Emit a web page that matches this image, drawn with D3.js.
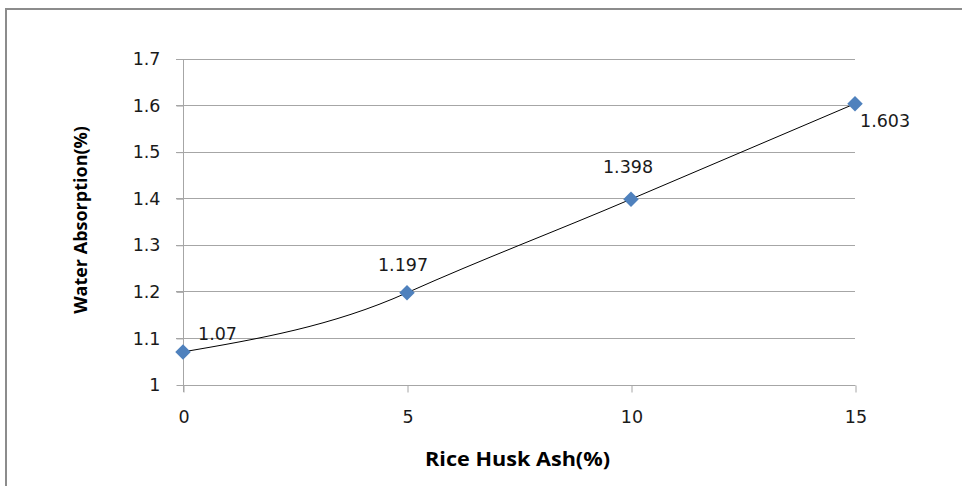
<!DOCTYPE html>
<html>
<head>
<meta charset="utf-8">
<script src="https://cdn.jsdelivr.net/npm/d3@7"></script>
<style>
  html, body { margin: 0; padding: 0; background: #fff; }
  svg { display: block; }
</style>
</head>
<body>
<svg id="chart" width="962" height="486"></svg>
<script>
// Rice husk ash content vs. water absorption
const ashPercent = [0, 5, 10, 15];
const waterAbsorption = [1.07, 1.197, 1.398, 1.603];
const xTicks = [0, 5, 10, 15];
const yTicks = [1, 1.1, 1.2, 1.3, 1.4, 1.5, 1.6, 1.7];

// label placement relative to each point (dx, dy, anchor)
const labelOffsets = [
  { dx: 15, dy: -12, anchor: "start" },
  { dx: -4, dy: -22, anchor: "middle" },
  { dx: -3, dy: -26, anchor: "middle" },
  { dx: 5, dy: 23, anchor: "start" }
];

const svg = d3.select("#chart");
const W = 962, H = 486;

// outer frame
svg.append("rect")
  .attr("x", 6).attr("y", 9)
  .attr("width", W + 10).attr("height", H + 10)
  .attr("fill", "#fff")
  .attr("stroke", "#8c8c8c")
  .attr("stroke-width", 2);

const x = d3.scaleLinear().domain([0, 15]).range([183, 855]);
const y = d3.scaleLinear().domain([1, 1.7]).range([384.5, 58.5]);

const tickFont = "DejaVu Sans, Verdana, sans-serif";
const tickSize = 17.5;
const gridColor = "#a6a6a6";

// horizontal gridlines
svg.append("g")
  .selectAll("line")
  .data(yTicks.slice(1))
  .join("line")
  .attr("x1", x(0) - 7).attr("x2", x(15))
  .attr("y1", d => Math.round(y(d)) + 0.5)
  .attr("y2", d => Math.round(y(d)) + 0.5)
  .attr("stroke", gridColor)
  .attr("stroke-width", 1);

// y axis
const yAxis = d3.axisLeft(y)
  .tickValues(yTicks)
  .tickSize(7)
  .tickPadding(16)
  .tickFormat(d3.format("~g"));
const gy = svg.append("g")
  .attr("transform", `translate(${x(0) + 0.5},0.5)`)
  .call(yAxis);
gy.select(".domain").attr("stroke", gridColor).attr("d", `M0,${y(1.7)}V${y(1) + 7}`);
gy.selectAll(".tick line").attr("stroke", gridColor);
gy.selectAll(".tick text")
  .attr("font-family", tickFont).attr("font-size", tickSize)
  .attr("fill", "#1a1a1a");

// x axis
const xAxis = d3.axisBottom(x)
  .tickValues(xTicks)
  .tickSize(7)
  .tickPadding(18)
  .tickFormat(d3.format("d"));
const gx = svg.append("g")
  .attr("transform", `translate(0.5,${Math.round(y(1)) + 0.5})`)
  .call(xAxis);
gx.select(".domain").attr("stroke", gridColor).attr("d", `M${x(0)},0H${x(15)}`);
gx.selectAll(".tick line").attr("stroke", gridColor);
gx.selectAll(".tick text")
  .attr("font-family", tickFont).attr("font-size", tickSize)
  .attr("fill", "#1a1a1a");

// smoothed series line: cubic Hermite segments through every point.
// Interior tangents lean on the following secant; the end tangents use
// a zero-curvature condition.
function smoothPath(p) {
  const n = p.length;
  const sec = [];
  for (let i = 0; i < n - 1; i++) {
    sec.push((p[i + 1][1] - p[i][1]) / (p[i + 1][0] - p[i][0]));
  }
  const m = new Array(n);
  for (let i = 1; i < n - 1; i++) {
    m[i] = sec[i] + 0.2 * (sec[i] - sec[i - 1]);
  }
  m[0] = (3 * sec[0] - m[1]) / 2;
  m[n - 1] = (3 * sec[n - 2] - m[n - 2]) / 2;
  const path = d3.path();
  path.moveTo(p[0][0], p[0][1]);
  for (let i = 0; i < n - 1; i++) {
    const h = (p[i + 1][0] - p[i][0]) / 3;
    path.bezierCurveTo(
      p[i][0] + h, p[i][1] + m[i] * h,
      p[i + 1][0] - h, p[i + 1][1] - m[i + 1] * h,
      p[i + 1][0], p[i + 1][1]
    );
  }
  return path.toString();
}

const pts = ashPercent.map((a, i) => [a, waterAbsorption[i]]);
const screenPts = pts.map(d => [x(d[0]), y(d[1])]);
svg.append("path")
  .attr("d", smoothPath(screenPts))
  .attr("fill", "none")
  .attr("stroke", "#000")
  .attr("stroke-width", 1);

// diamond markers
svg.append("g")
  .selectAll("path")
  .data(pts)
  .join("path")
  .attr("transform", d => `translate(${x(d[0])},${y(d[1])}) rotate(45)`)
  .attr("d", d3.symbol(d3.symbolSquare, 120)())
  .attr("fill", "#4f81bd");

// data labels
svg.append("g")
  .selectAll("text")
  .data(pts)
  .join("text")
  .attr("x", (d, i) => x(d[0]) + labelOffsets[i].dx)
  .attr("y", (d, i) => y(d[1]) + labelOffsets[i].dy)
  .attr("text-anchor", (d, i) => labelOffsets[i].anchor)
  .attr("font-family", tickFont).attr("font-size", tickSize)
  .attr("fill", "#1a1a1a")
  .text(d => String(d[1]));

// axis titles
const titleFont = "Open Sans, Lato, sans-serif";
svg.append("text")
  .attr("x", 425).attr("y", 466)
  .attr("textLength", 185)
  .attr("lengthAdjust", "spacingAndGlyphs")
  .attr("font-family", titleFont).attr("font-weight", "bold").attr("font-size", 19)
  .attr("fill", "#000")
  .text("Rice Husk Ash(%)");

svg.append("text")
  .attr("transform", "translate(87,220) rotate(-90)")
  .attr("text-anchor", "middle")
  .attr("font-family", titleFont).attr("font-weight", "bold").attr("font-size", 18)
  .attr("fill", "#000")
  .text("Water Absorption(%)");
</script>
</body>
</html>
